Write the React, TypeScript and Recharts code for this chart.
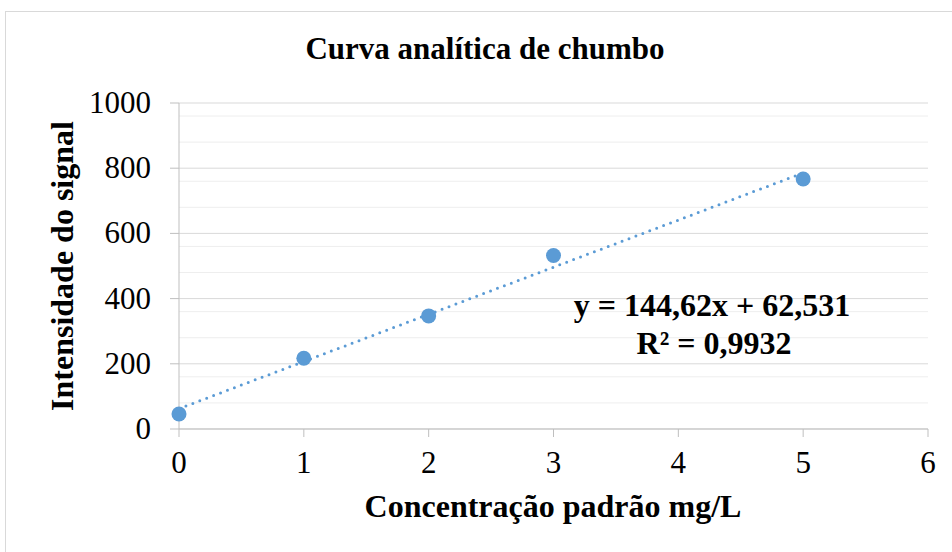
import React from 'react'
import { ScatterChart, Scatter, XAxis, YAxis, CartesianGrid, ReferenceLine } from 'recharts'

// leituras da curva analítica (Pb)
const concentrations = [0, 1, 2, 3, 5]
const intensities = [46, 217, 347, 532, 767]

// linha de tendência linear (Excel)
const trendX = [0, 5]
const trendY = [62.5, 785.6]

const xTicks = [0, 1, 2, 3, 4, 5, 6]
const yTicks = [0, 200, 400, 600, 800, 1000]
const minorGrid = [40, 80, 120, 160, 240, 280, 320, 360, 440, 480, 520, 560, 640, 680, 720, 760, 840, 880, 920, 960]

const title = 'Curva analítica de chumbo'
const xTitle = 'Concentração padrão mg/L'
const yTitle = 'Intensidade do signal'
const equation = 'y = 144,62x + 62,531'
const rSquared = 'R² = 0,9932'

const FONT = 'Liberation Serif, Times New Roman, serif'
const BLUE = '#5B9BD5'
const AXIS = '#bfbfbf'

const data = concentrations.map((x, i) => ({ x, y: intensities[i] }))

const Dot = (props: any) => <circle cx={props.cx} cy={props.cy} r={7.5} fill={BLUE} />

const XTick = (props: any) => (
  <text x={props.x} y={props.y + 21} textAnchor="middle" fontFamily={FONT} fontSize={31} fill="#000">
    {props.payload.value}
  </text>
)

const YTick = (props: any) => (
  <text x={props.x} y={props.y + 10} textAnchor="end" fontFamily={FONT} fontSize={31} fill="#000">
    {props.payload.value}
  </text>
)

export default function App() {
  return (
    <div style={{ position: 'absolute', left: 0, top: 0, width: 952, height: 552, background: '#fff', overflow: 'hidden', fontFamily: FONT }}>
      <div style={{ position: 'absolute', left: 5, top: 11, width: 1000, height: 600, border: '1px solid #d9d9d9' }} />
      <div style={{ position: 'absolute', left: 0, top: 0 }}>
        <ScatterChart width={952} height={552} margin={{ top: 103, right: 24, bottom: 0, left: 0 }}>
          <CartesianGrid vertical={false} horizontalValues={minorGrid} stroke="#eeeeee" strokeWidth={1} />
          <CartesianGrid vertical={false} horizontalValues={yTicks} stroke="#d9d9d9" strokeWidth={1} />
          <XAxis
            type="number"
            dataKey="x"
            domain={[0, 6]}
            ticks={xTicks}
            height={123}
            stroke={AXIS}
            tickSize={8}
            tickMargin={15}
            tick={<XTick />}
          />
          <YAxis
            type="number"
            dataKey="y"
            domain={[0, 1000]}
            ticks={yTicks}
            width={179}
            stroke={AXIS}
            tickSize={9}
            tickMargin={19}
            tick={<YTick />}
          />
          <Scatter data={data} shape={Dot} isAnimationActive={false} />
          <ReferenceLine
            segment={[{ x: trendX[0], y: trendY[0] }, { x: trendX[1], y: trendY[1] }]}
            stroke={BLUE}
            strokeWidth={3}
            strokeDasharray="0 7.4"
            strokeLinecap="round"
            ifOverflow="visible"
          />
        </ScatterChart>
      </div>
      <svg width={952} height={552} style={{ position: 'absolute', left: 0, top: 0, pointerEvents: 'none' }}>
        <g fontFamily={FONT} fontWeight="bold" fill="#000">
          <text x={485} y={59} fontSize={31} textAnchor="middle">{title}</text>
          <text x={553} y={517} fontSize={32} textAnchor="middle">{xTitle}</text>
          <text x={0} y={0} fontSize={32} textAnchor="middle" transform="translate(73 266) rotate(-90)">{yTitle}</text>
          <text x={712} y={316} fontSize={32} textAnchor="middle">{equation}</text>
          <text x={714} y={354} fontSize={32} textAnchor="middle">{rSquared}</text>
        </g>
      </svg>
    </div>
  )
}
